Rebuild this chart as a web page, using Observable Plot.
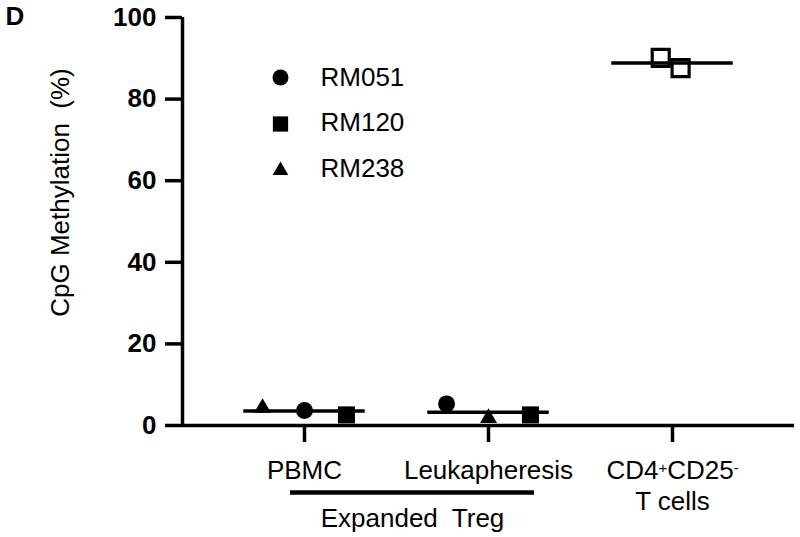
<!DOCTYPE html>
<html><head><meta charset="utf-8">
<script src="https://cdn.jsdelivr.net/npm/d3@7"></script>
<script src="https://cdn.jsdelivr.net/npm/@observablehq/plot@0.6"></script>
<style>
body{margin:0;background:#fff}
svg{display:block}
</style>
</head><body><div id="chart"></div>
<script>
// ---- data ----
const groups = ["PBMC", "Leukapheresis", "CD4+CD25-\nT cells"];
const samples = ["RM051", "RM120", "RM238"];
const symbols = ["circle", "square", "triangle"];
const pbmcValues = [3.7, 2.6, 4.3];      // RM051, RM120, RM238
const leukValues = [5.3, 2.6, 1.8];      // RM051, RM120, RM238
const cd4Values = [90.1, 87.6];          // CD4+CD25- T cells (open squares)
const pbmcOrder = ["RM238", "RM051", "RM120"];
const leukOrder = ["RM051", "RM238", "RM120"];
const yTicks = [0, 20, 40, 60, 80, 100];
const yLabel = "CpG Methylation\u00a0 (%)";
const bracketLabel = "Expanded\u00a0 Treg";
const panelLabel = "D";

// ---- build records ----
const SPREAD = 0.228, CD4SPREAD = 0.054, HALF = 0.33;
const records = [];
samples.forEach((s, i) => {
  records.push({g: 1, sample: s, value: pbmcValues[i], x: 1 + (pbmcOrder.indexOf(s) - 1) * SPREAD});
  records.push({g: 2, sample: s, value: leukValues[i], x: 2 + (leukOrder.indexOf(s) - 1) * SPREAD});
});
const cd4 = cd4Values.map((v, i) => ({g: 3, value: v, x: 3 + (i - 0.5) * 2 * CD4SPREAD - 0.01}));
const means = [
  {g: 1, mean: d3.mean(pbmcValues)},
  {g: 2, mean: d3.mean(leukValues)},
  {g: 3, mean: d3.mean(cd4Values)}
];
const dataR = {circle: 8.5, square: 9.6, triangle: 6.3};
const legR = {circle: 8, square: 8.6, triangle: 5.8};
const xDomain = [1 - 0.663, 3 + 0.663];

const marks = [
  Plot.ruleY([0], {strokeWidth: 3.5}),
  Plot.ruleX([xDomain[0]], {y1: 0, y2: 100, strokeWidth: 3.5}),
  Plot.axisY({ticks: yTicks, tickSize: 17, tickPadding: 9, strokeWidth: 3.5, fontSize: 26, fontWeight: "bold", label: null}),
  Plot.axisX({ticks: [1, 2, 3], tickFormat: d => groups[d - 1], tickSize: 17, tickPadding: 15, strokeWidth: 3.5, fontSize: 26, lineHeight: 1.19, label: null}),
  Plot.ruleY(means, {y: "mean", x1: d => d.g - HALF, x2: d => d.g + HALF, strokeWidth: 3.5}),
  Plot.dot(cd4, {x: "x", y: "value", symbol: "square", r: 9.6, stroke: "black", strokeWidth: 3.2, fill: "none"}),
  // bracket under the first two groups
  Plot.ruleY([0], {x1: 0.924, x2: 2.25, dy: 67, strokeWidth: 4.5}),
  Plot.text([bracketLabel], {text: d => d, x: (0.924 + 2.25) / 2, y: 0, dy: 83, lineAnchor: "top", fontSize: 26}),
  // panel label and y label
  Plot.text([panelLabel], {text: d => d, frameAnchor: "top-left", dx: -177, dy: -11, textAnchor: "start", lineAnchor: "top", fontSize: 26, fontWeight: "bold"}),
  Plot.text([yLabel], {text: d => d, frameAnchor: "left", dx: -122, dy: -29, rotate: -90, textAnchor: "middle", lineAnchor: "middle", fontSize: 26})
];
samples.forEach((s, i) => {
  const sym = symbols[i];
  marks.push(Plot.dot(records.filter(d => d.sample === s), {x: "x", y: "value", symbol: sym, r: dataR[sym], fill: "black"}));
  marks.push(Plot.dot([s], {frameAnchor: "top-left", dx: 98, dy: 60 + i * 46.5, symbol: sym, r: legR[sym], fill: "black"}));
  marks.push(Plot.text([s], {text: d => d, frameAnchor: "top-left", dx: 138, dy: 60 + i * 45.5, textAnchor: "start", lineAnchor: "middle", fontSize: 26}));
});

const chart = Plot.plot({
  width: 800,
  height: 537,
  marginTop: 17,
  marginBottom: 112,
  marginLeft: 182,
  marginRight: 6,
  style: {fontFamily: "'Liberation Sans', Arial, sans-serif", color: "black", background: "white", overflow: "visible"},
  x: {type: "linear", domain: xDomain, axis: null},
  y: {domain: [0, 100], axis: null},
  marks
});
document.getElementById("chart").append(chart);

// superscript + and - in "CD4+CD25-"
const NS = "http://www.w3.org/2000/svg";
chart.querySelectorAll("tspan, text").forEach(el => {
  if (el.childElementCount === 0 && el.textContent === "CD4+CD25-") {
    el.textContent = "";
    ["CD4", "+", "CD25", "-"].forEach((part, k) => {
      const t = document.createElementNS(NS, "tspan");
      t.textContent = part;
      if (k % 2 === 1) {
        t.setAttribute("baseline-shift", "38%");
        t.setAttribute("font-size", "15");
      }
      el.appendChild(t);
    });
  }
});
</script>
</body></html>
